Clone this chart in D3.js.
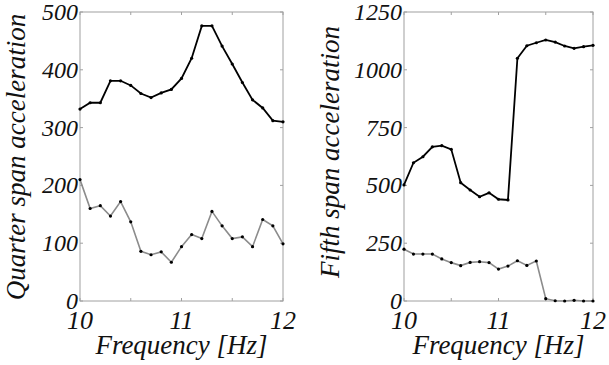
<!DOCTYPE html>
<html><head><meta charset="utf-8"><script src="https://cdn.jsdelivr.net/npm/d3@7"></script>
<style>
  @font-face { font-family: 'ChartSerif'; font-style: italic; src: local('Liberation Serif Italic'), local('LiberationSerif-Italic'), local('Tinos Italic'), local('FreeSerif Italic'); }
</style>
</head>
<body style="margin:0">
<script>
// frequency samples (Hz)
const freqs = [10.0, 10.1, 10.2, 10.3, 10.4, 10.5, 10.6, 10.7, 10.8, 10.9, 11.0,
               11.1, 11.2, 11.3, 11.4, 11.5, 11.6, 11.7, 11.8, 11.9, 12.0];

// quarter span
const quarterUpper = [332, 343, 343, 381, 381, 373, 359, 352, 360, 366, 385,
                      420, 476, 476, 441, 410, 378, 348, 334, 312, 310];
const quarterLower = [210, 160, 165, 147, 172, 137, 86, 80, 85, 67, 94,
                      115, 108, 155, 130, 108, 111, 94, 141, 130, 99];

// fifth span
const fifthUpper = [502, 598, 624, 667, 672, 656, 512, 480, 451, 468, 440,
                    437, 1050, 1104, 1117, 1129, 1120, 1103, 1093, 1100, 1106];
const fifthLower = [224, 203, 203, 203, 182, 166, 153, 167, 170, 166, 138,
                    151, 174, 154, 173, 10, 1, 0, 3, 0, 0];

const xTicks = [10, 10.5, 11, 11.5, 12];
const xLabels = [10, 11, 12];
const quarterTicks = [0, 100, 200, 300, 400, 500];
const fifthTicks = [0, 250, 500, 750, 1000, 1250];

const svg = d3.select('body').append('svg')
  .attr('width', 609)
  .attr('height', 365);

const panels = [
  { x0: 80, x1: 283, yMax: 500, yTicks: quarterTicks, upper: quarterUpper, lower: quarterLower,
    label: 'Quarter span acceleration', labelX: 25, labelY: 157 },
  { x0: 404, x1: 593, yMax: 1250, yTicks: fifthTicks, upper: fifthUpper, lower: fifthLower,
    label: 'Fifth span acceleration', labelX: 339, labelY: 152 }
];

const plotTop = 12, plotBottom = 301;
const serifName = 'Liberation Serif';

function styleText(sel, size) {
  return sel
    .style('font-family', () => "'" + serifName + "', 'ChartSerif', 'Tinos', 'FreeSerif', serif")
    .style('font-style', 'italic')
    .style('font-size', size + 'px')
    .attr('fill', '#111');
}

panels.forEach(p => {
  const x = d3.scaleLinear().domain([10, 12]).range([p.x0, p.x1]);
  const y = d3.scaleLinear().domain([0, p.yMax]).range([plotBottom, plotTop]);
  const g = svg.append('g');

  // frame
  g.append('rect')
    .attr('x', p.x0).attr('y', plotTop)
    .attr('width', p.x1 - p.x0).attr('height', plotBottom - plotTop)
    .attr('fill', 'none').attr('stroke', '#a0a0a0').attr('stroke-width', 1);

  // inward ticks on all four sides
  const tl = 3;
  xTicks.forEach(t => {
    g.append('line').attr('x1', x(t)).attr('x2', x(t)).attr('y1', plotBottom).attr('y2', plotBottom - tl)
      .attr('stroke', '#a0a0a0');
    g.append('line').attr('x1', x(t)).attr('x2', x(t)).attr('y1', plotTop).attr('y2', plotTop + tl)
      .attr('stroke', '#a0a0a0');
  });
  p.yTicks.forEach(t => {
    g.append('line').attr('x1', p.x0).attr('x2', p.x0 + tl).attr('y1', y(t)).attr('y2', y(t))
      .attr('stroke', '#a0a0a0');
    g.append('line').attr('x1', p.x1).attr('x2', p.x1 - tl).attr('y1', y(t)).attr('y2', y(t))
      .attr('stroke', '#a0a0a0');
  });

  // tick labels
  styleText(g.selectAll('.ylab').data(p.yTicks).enter().append('text')
    .attr('x', p.x0 - 2)
    .attr('y', d => y(d) + 8)
    .attr('text-anchor', 'end')
    .text(d => d), 24);

  styleText(g.selectAll('.xlab').data(xLabels).enter().append('text')
    .attr('x', d => x(d))
    .attr('y', plotBottom + 28)
    .attr('text-anchor', 'middle')
    .text(d => d), 26);

  // axis titles
  styleText(g.append('text')
    .attr('x', (p.x0 + p.x1) / 2)
    .attr('y', 354)
    .attr('text-anchor', 'middle')
    .text('Frequency [Hz]'), 27);

  styleText(g.append('text')
    .attr('transform', 'translate(' + p.labelX + ',' + p.labelY + ') rotate(-90)')
    .attr('text-anchor', 'middle')
    .text(p.label), 27);

  // lines
  const line = d3.line().x((d, i) => x(freqs[i])).y(d => y(d));
  const series = [
    { vals: p.lower, color: '#8c8c8c', w: 1.6 },
    { vals: p.upper, color: '#000', w: 1.8 }
  ];
  series.forEach(s => {
    g.append('path')
      .datum(s.vals)
      .attr('fill', 'none')
      .attr('stroke', s.color)
      .attr('stroke-width', s.w)
      .attr('d', line);
    g.selectAll(null).data(s.vals).enter().append('circle')
      .attr('cx', (d, i) => x(freqs[i]))
      .attr('cy', d => y(d))
      .attr('r', 1.6)
      .attr('fill', '#000');
  });
});
</script>
</body>
</html>
